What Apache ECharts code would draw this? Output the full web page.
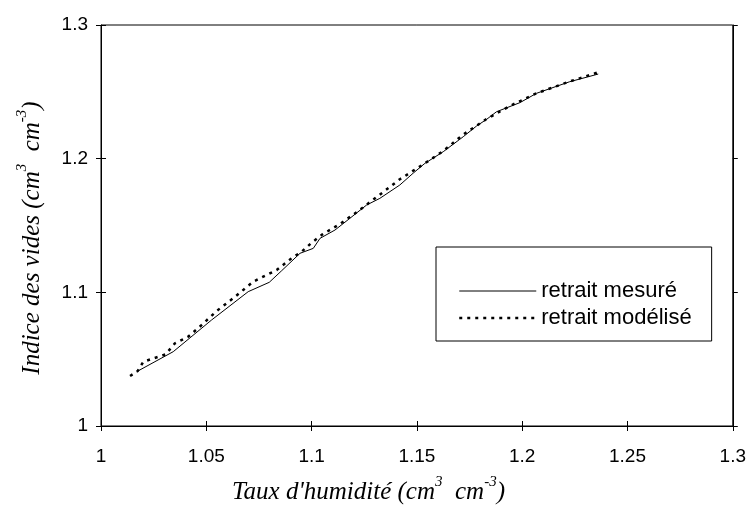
<!DOCTYPE html>
<html>
<head>
<meta charset="utf-8">
<script src="https://cdn.jsdelivr.net/npm/echarts@6/dist/echarts.min.js"></script>
<style>html,body{margin:0;padding:0;background:#fff;}#c{width:749px;height:506px;}</style>
</head>
<body>
<div id="c"></div>
<script>
// Data
const seriesNames = ['retrait mesuré', 'retrait modélisé'];
const measuredX = [1.0169,1.0343,1.0525,1.0699,1.0799,1.0858,1.0945,1.1008,1.1040,1.1111,1.1182,1.1261,1.1324,1.1419,1.1482,1.1538,1.1625,1.1720,1.1783,1.1831,1.1878,1.1989,1.2068,1.2226,1.2274,1.2361];
const measuredY = [1.0406,1.0556,1.0793,1.1005,1.1075,1.1162,1.1292,1.1329,1.1404,1.1466,1.1554,1.1653,1.1703,1.1803,1.1891,1.1965,1.2052,1.2164,1.2244,1.2294,1.2351,1.2419,1.2489,1.2576,1.2596,1.2633];
const modelX = [1.0138,1.0174,1.0201,1.0307,1.0351,1.0414,1.0478,1.0549,1.0631,1.0723,1.0834,1.0905,1.0953,1.1000,1.1052,1.1134,1.1217,1.1316,1.1419,1.1538,1.1625,1.1717,1.1831,1.1941,1.2068,1.2223,1.2361];
const modelY = [1.0374,1.0411,1.0481,1.0536,1.0619,1.0668,1.0756,1.0860,1.0960,1.1080,1.1167,1.1255,1.1304,1.1371,1.1434,1.1511,1.1603,1.1721,1.1846,1.1965,1.2057,1.2177,1.2297,1.2394,1.2489,1.2576,1.2646];
const xTicks = [1, 1.05, 1.1, 1.15, 1.2, 1.25, 1.3];
const yTicks = [1, 1.1, 1.2, 1.3];

const chart = echarts.init(document.getElementById('c'));
const pair = (xs, ys) => xs.map((x, i) => [x, ys[i]]);
const fmt = v => { const r = Math.round(v * 1000) / 1000; return String(r); };
const labelFont = {fontFamily: 'Liberation Sans, Arial, sans-serif', fontSize: 19, color: '#000'};
const titleRich = {
  a: {fontFamily: 'Liberation Serif, Times New Roman, serif', fontStyle: 'italic', fontSize: 25, color: '#000', lineHeight: 30, verticalAlign: 'bottom'},
  s: {fontFamily: 'Liberation Serif, Times New Roman, serif', fontStyle: 'italic', fontSize: 15, color: '#000', lineHeight: 30, verticalAlign: 'top'}
};
const xMin = xTicks[0], xMax = xTicks[xTicks.length - 1], xInt = xTicks[1] - xTicks[0];
const yMin = yTicks[0], yMax = yTicks[yTicks.length - 1], yInt = yTicks[1] - yTicks[0];
const axLine = {lineStyle: {color: '#000', width: 1}};

chart.setOption({
  animation: false,
  backgroundColor: '#fff',
  grid: {left: 101, right: 16, top: 25, bottom: 80, show: true, borderColor: '#000', borderWidth: 1, backgroundColor: 'transparent'},
  xAxis: [
    {type: 'value', min: xMin, max: xMax, interval: xInt, position: 'bottom',
     axisLine: axLine, axisTick: {show: true, inside: false, length: 5, lineStyle: {color: '#000'}},
     axisLabel: Object.assign({margin: 21, formatter: fmt}, labelFont), splitLine: {show: false}},
    {type: 'value', min: xMin, max: xMax, interval: xInt, position: 'bottom', gridIndex: 0,
     axisLine: {show: false}, axisTick: {show: true, inside: true, length: 5, lineStyle: {color: '#000'}},
     axisLabel: {show: false}, splitLine: {show: false}}
  ],
  yAxis: [
    {type: 'value', min: yMin, max: yMax, interval: yInt, position: 'left',
     axisLine: axLine, axisTick: {show: true, inside: false, length: 5, lineStyle: {color: '#000'}},
     axisLabel: Object.assign({margin: 13, formatter: fmt}, labelFont), splitLine: {show: false}},
    {type: 'value', min: yMin, max: yMax, interval: yInt, position: 'left',
     axisLine: {show: false}, axisTick: {show: true, inside: true, length: 5, lineStyle: {color: '#000'}},
     axisLabel: {show: false}, splitLine: {show: false}},
    {type: 'value', min: yMin, max: yMax, interval: yInt, position: 'right',
     axisLine: axLine, axisTick: {show: true, inside: false, length: 5, lineStyle: {color: '#000'}},
     axisLabel: {show: false}, splitLine: {show: false}}
  ],
  legend: {
    left: 436, top: 247, orient: 'vertical',
    data: [
      {name: seriesNames[0], itemStyle: {opacity: 0}, lineStyle: {width: 1}},
      {name: seriesNames[1], itemStyle: {opacity: 0}, lineStyle: {width: 2.5}}
    ],
    itemWidth: 77, itemHeight: 12, itemGap: 5,
    padding: [33, 20, 12, 22],
    borderColor: '#000', borderWidth: 1, borderRadius: 0, backgroundColor: '#fff',
    textStyle: {fontFamily: 'Liberation Sans, Arial, sans-serif', fontSize: 22, color: '#000'}
  },
  graphic: [
    {type: 'text', x: 232, y: 490,
     style: {text: "{a|Taux d'humidité (cm}{s|3}{a|  cm}{s|-3}{a|)}", rich: titleRich, verticalAlign: 'middle', align: 'left'}},
    {type: 'text', x: 30, y: 238, rotation: Math.PI / 2,
     style: {text: "{a|Indice des vides (cm}{s|3}{a|  cm}{s|-3}{a|)}", rich: titleRich, verticalAlign: 'middle', align: 'center'}}
  ],
  series: [
    {name: seriesNames[0], type: 'line', data: pair(measuredX, measuredY), symbol: 'none', smooth: false,
     lineStyle: {color: '#000', width: 1, type: 'solid'}, itemStyle: {color: '#000'}, z: 3},
    {name: seriesNames[1], type: 'line', data: pair(modelX, modelY), symbol: 'none', smooth: false,
     lineStyle: {color: '#000', width: 2.5, type: [3, 5]}, itemStyle: {color: '#000'}, z: 4}
  ]
});
</script>
</body>
</html>
